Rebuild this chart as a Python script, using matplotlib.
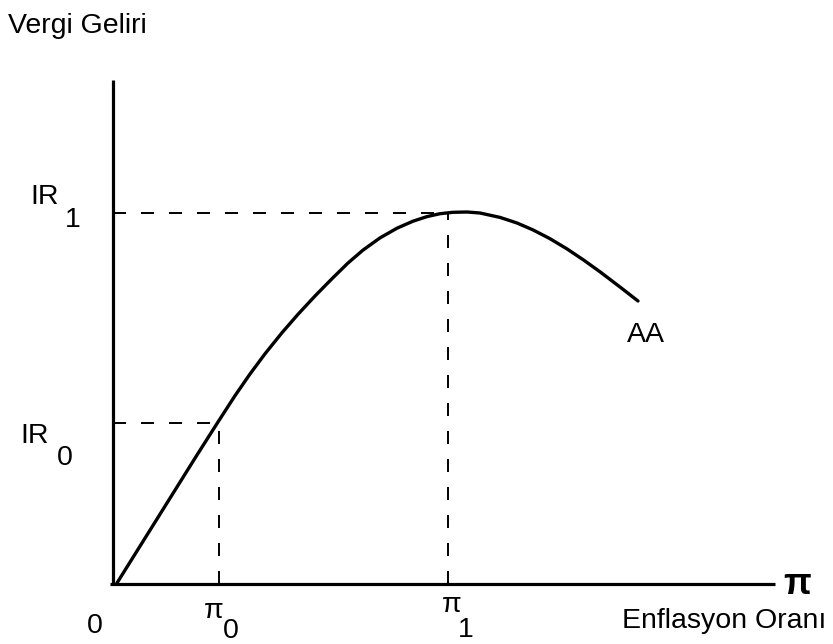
import numpy as np
import matplotlib.pyplot as plt

plt.rcParams['font.family'] = ['Liberation Sans', 'DejaVu Sans']

# revenue curve AA (inflation, tax revenue)
infl = [0.4, 2.4, 4.4, 6.4, 8.4, 10.5, 12.2, 13.7, 15.2, 16.9, 18.5, 20.2, 21.9,
        23.5, 25.0, 26.7, 28.4, 30.0, 31.4, 32.7, 34.0, 35.4, 36.7, 38.7, 40.4,
        42.0, 43.7, 45.4, 47.1, 48.7, 50.7, 52.5]
rev = [0.1, 3.3, 6.5, 9.7, 12.9, 16.2, 18.83, 21.0, 23.02, 25.13, 26.97, 28.8,
       30.53, 32.1, 33.39, 34.61, 35.58, 36.28, 36.74, 37.03, 37.17, 37.2, 37.1,
       36.66, 36.1, 35.41, 34.53, 33.51, 32.37, 31.22, 29.7, 28.3]

pi0, ir0 = 10.6, 16.1
pi1, ir1 = 33.5, 37.1
x_end, y_top = 66.2, 50.4

fig = plt.figure(figsize=(8.33, 6.44), dpi=100)
ax = fig.add_axes([0, 0, 1, 1])
ax.set_xlim(-11.3, 72.0)
ax.set_ylim(-6.0, 58.4)
ax.axis('off')

# axes
ax.plot([-0.3, x_end], [0, 0], color='black', lw=2.3, solid_capstyle='butt')
ax.plot([0, 0], [0, y_top], color='black', lw=2.3, solid_capstyle='butt')

# guide lines
dash = dict(color='black', lw=1.4, dashes=(6.7, 7.7))
ax.plot([0, pi1], [ir1, ir1], **dash)
ax.plot([pi1, pi1], [0, ir1], **dash)
ax.plot([0, pi0], [ir0, ir0], **dash)
ax.plot([pi0, pi0], [0, ir0], **dash)

ax.plot(infl, rev, color='black', lw=2.4, solid_capstyle='round',
        solid_joinstyle='round')

fs = 20.5
ax.text(-10.5, 55.1, 'Vergi Geliri', fontsize=fs, va='baseline')
ax.text(-8.3, 38.0, 'IR', fontsize=fs, va='baseline')
ax.text(-4.8, 35.7, '1', fontsize=fs, va='baseline')
ax.text(-9.3, 14.1, 'IR', fontsize=fs, va='baseline')
ax.text(-5.6, 11.9, '0', fontsize=fs, va='baseline')
ax.text(-2.6, -4.9, '0', fontsize=fs, va='baseline')
ax.text(9.1, -3.4, 'π', fontsize=fs, va='baseline')
ax.text(11.0, -5.4, '0', fontsize=fs, va='baseline')
ax.text(32.9, -2.8, 'π', fontsize=fs, va='baseline')
ax.text(34.5, -5.3, '1', fontsize=fs, va='baseline')
ax.text(67.0, -1.0, 'π', fontsize=26, fontweight='bold', va='baseline')
ax.text(50.9, -4.4, 'Enflasyon Oranı', fontsize=fs, va='baseline')
ax.text(51.4, 24.2, 'AA', fontsize=fs, va='baseline')

fig.savefig('out.png', dpi=100)
